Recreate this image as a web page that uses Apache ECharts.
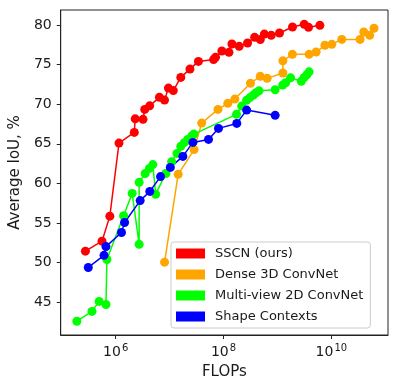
<!DOCTYPE html>
<html>

<head>
    <meta charset="utf-8" />
    <style type="text/css">
        body {
            margin: 0;
        }
    </style>
    <script src="https://cdn.jsdelivr.net/npm/echarts@6/dist/echarts.min.js"></script>
</head>

<body>
    <div id="main" style="width: 398px; height: 388px"></div>
    <script type="text/javascript">
        // FLOPs / average IoU
        var sscnFlops = [2.74e5, 5.57e5, 7.78e5, 1.15e6, 2.21e6, 2.3e6, 3.21e6, 3.45e6, 4.26e6, 6.46e6, 8.05e6, 9.5e6, 1.17e7, 1.61e7, 2.38e7, 3.42e7, 6.53e7, 7.1e7, 9.3e7, 1.26e8, 1.43e8, 1.95e8, 2.79e8, 3.77e8, 4.8e8, 5.71e8, 7.66e8, 1.09e9, 1.9e9, 3.13e9, 3.77e9, 6.11e9];
        var sscnIou = [51.45, 52.71, 55.87, 65.09, 66.44, 68.16, 68.09, 69.35, 69.8, 70.87, 70.52, 72.04, 71.72, 73.39, 74.44, 75.41, 75.64, 75.92, 76.72, 76.55, 77.6, 77.31, 77.73, 78.45, 78.17, 78.86, 78.7, 78.99, 79.75, 80.09, 79.71, 79.96];

        var denseFlops = [8.05e6, 1.44e7, 2.84e7, 3.93e7, 7.89e7, 1.2e8, 1.62e8, 3.16e8, 4.8e8, 6.43e8, 1.26e9, 1.26e9, 1.89e9, 3.86e9, 5.21e9, 7.59e9, 1.02e10, 1.56e10, 3.41e10, 3.99e10, 5.13e10, 6.17e10];
        var denseIou = [50.06, 61.15, 64.27, 67.62, 69.35, 70.11, 70.65, 72.65, 73.52, 73.27, 73.94, 75.48, 76.3, 76.3, 76.59, 77.45, 77.56, 78.19, 78.19, 79.12, 78.71, 79.6];

        var multiFlops = [1.9e5, 3.63e5, 4.92e5, 6.59e5, 6.87e5, 1.4e6, 2.02e6, 2.72e6, 2.72e6, 3.52e6, 4.22e6, 4.88e6, 5.51e6, 8.53e6, 1.09e7, 1.37e7, 1.61e7, 1.87e7, 2.16e7, 2.56e7, 2.81e7, 1.74e8, 2.17e8, 2.68e8, 3.09e8, 3.58e8, 4.01e8, 4.55e8, 9.06e8, 1.25e9, 1.42e9, 1.75e9, 2.77e9, 3.13e9, 3.51e9, 3.86e9];
        var multiIou = [42.6, 43.84, 45.1, 44.71, 50.4, 55.93, 58.74, 52.31, 60.14, 61.26, 61.9, 62.38, 58.64, 61.26, 62.74, 63.79, 64.69, 65.15, 65.56, 65.98, 66.23, 68.72, 69.77, 70.5, 70.84, 71.16, 71.45, 71.69, 71.83, 72.42, 72.71, 73.33, 72.9, 73.37, 73.72, 74.09];

        var shapeFlops = [3.1e5, 6.07e5, 6.59e5, 1.28e6, 1.46e6, 2.84e6, 4.29e6, 6.79e6, 1.03e7, 1.76e7, 2.7e7, 5.26e7, 8.05e7, 1.76e8, 2.68e8, 9.06e8];
        var shapeIou = [49.39, 50.92, 52.02, 53.81, 55.07, 57.83, 58.99, 60.86, 62.02, 63.41, 65.18, 65.56, 66.95, 67.58, 69.26, 68.6];

        var seriesNames = ["SSCN (ours)", "Dense 3D ConvNet", "Multi-view 2D ConvNet", "Shape Contexts"];
        var seriesColors = ["#ff0000", "#ffa500", "#00ff00", "#0000ff"];

        // tick positions (log10 of FLOPs) and IoU ticks
        var xTicks = [6, 8, 10];
        var yTicks = [45, 50, 55, 60, 65, 70, 75, 80];

        var font = "DejaVu Sans";
        var ink = "#1a1a1a";

        // x is plotted as log10(FLOPs)
        function toPairs(flops, iou) {
            return flops.map(function (f, i) {
                return [Math.log10(f), iou[i]];
            });
        }

        var allData = [
            toPairs(sscnFlops, sscnIou),
            toPairs(denseFlops, denseIou),
            toPairs(multiFlops, multiIou),
            toPairs(shapeFlops, shapeIou),
        ];

        var series = allData.map(function (d, i) {
            return {
                name: seriesNames[i],
                type: "line",
                data: d,
                symbol: "circle",
                symbolSize: 9,
                color: seriesColors[i],
                lineStyle: { width: 1.5 },
                itemStyle: { color: seriesColors[i] },
            };
        });

        var myChart = echarts.init(document.getElementById("main"));
        var option = {
            animation: false,
            grid: {
                left: 53,
                right: 10,
                top: 10,
                bottom: 53,
                show: true,
                borderColor: "#222",
                borderWidth: 1,
                backgroundColor: "transparent",
            },
            legend: {
                orient: "vertical",
                left: 171,
                top: 242,
                icon: "rect",
                itemWidth: 29,
                itemHeight: 10,
                itemGap: 8,
                padding: [5, 7, 5, 5],
                backgroundColor: "#fff",
                borderColor: "#ccc",
                borderWidth: 1,
                borderRadius: 3,
                textStyle: {
                    fontFamily: font,
                    fontSize: 13,
                    color: ink,
                    padding: [0, 0, 0, 5],
                },
                data: seriesNames,
            },
            xAxis: {
                type: "value",
                min: 4.98,
                max: 11.05,
                name: "FLOPs",
                nameLocation: "middle",
                nameGap: 30,
                nameTextStyle: { fontFamily: font, fontSize: 15, color: ink },
                axisLine: { show: true, lineStyle: { color: "#222" } },
                axisTick: {
                    show: true,
                    length: 4,
                    customValues: xTicks,
                    lineStyle: { color: "#222" },
                },
                axisLabel: {
                    margin: 8,
                    customValues: xTicks,
                    formatter: function (v) {
                        return "{b|10}{s|" + v + "}";
                    },
                    rich: {
                        b: { fontFamily: font, fontSize: 14, color: ink },
                        s: { fontFamily: font, fontSize: 10, color: ink, padding: [0, 0, 8, 1] },
                    },
                },
                splitLine: { show: false },
            },
            yAxis: {
                type: "value",
                min: 40.86,
                max: 81.9,
                name: "Average IoU, %",
                nameLocation: "middle",
                nameGap: 32,
                nameTextStyle: { fontFamily: font, fontSize: 15, color: ink },
                axisLine: { show: true, lineStyle: { color: "#222" } },
                axisTick: {
                    show: true,
                    length: 4,
                    customValues: yTicks,
                    lineStyle: { color: "#222" },
                },
                axisLabel: {
                    margin: 9,
                    customValues: yTicks,
                    fontFamily: font,
                    fontSize: 14,
                    color: ink,
                },
                splitLine: { show: false },
            },
            series: series,
        };
        myChart.setOption(option);
    </script>
</body>

</html>
